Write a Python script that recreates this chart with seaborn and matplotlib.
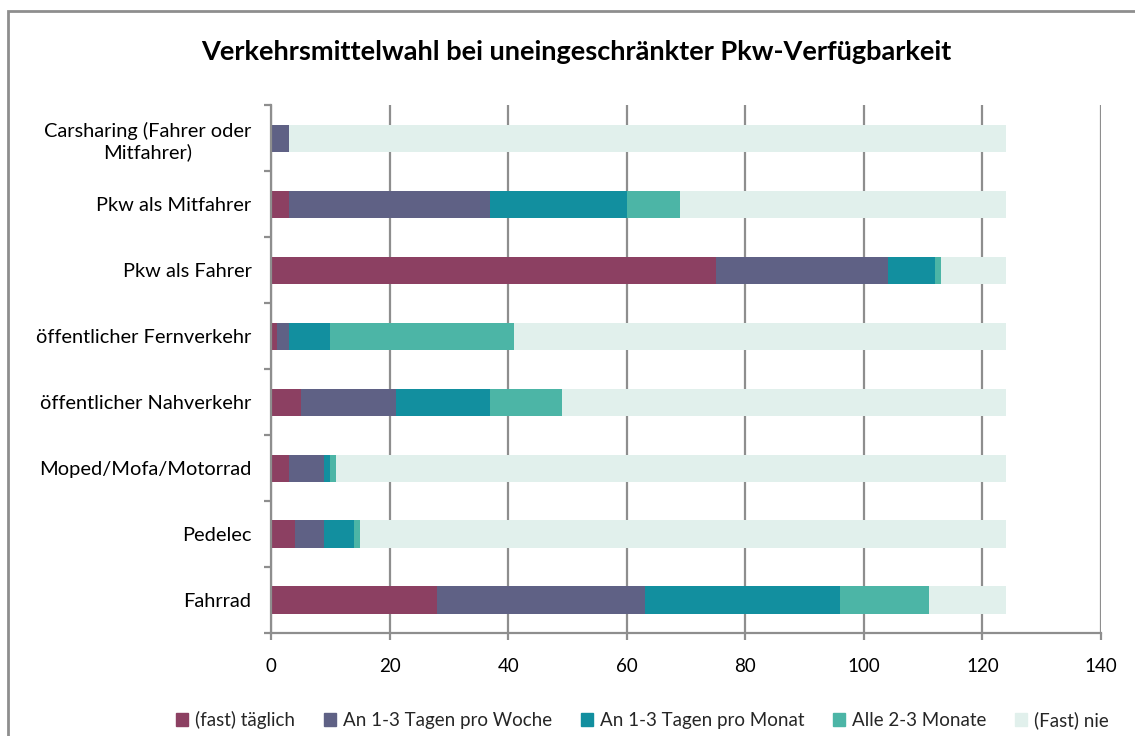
import matplotlib
matplotlib.use("Agg")
import matplotlib.pyplot as plt
import matplotlib.patches as mpatches
import seaborn as sns
import pandas as pd
import numpy as np

# Daten
verkehrsmittel = [
    "Carsharing (Fahrer oder\nMitfahrer)",
    "Pkw als Mitfahrer",
    "Pkw als Fahrer",
    "öffentlicher Fernverkehr",
    "öffentlicher Nahverkehr",
    "Moped/Mofa/Motorrad",
    "Pedelec",
    "Fahrrad",
]
taeglich = [0, 3, 75, 1, 5, 3, 4, 28]
woche = [3, 34, 29, 2, 16, 6, 5, 35]
monat = [0, 23, 8, 7, 16, 1, 5, 33]
alle_2_3 = [0, 9, 1, 31, 12, 1, 1, 15]
nie = [121, 55, 11, 83, 75, 113, 109, 13]

serien = ["(fast) täglich", "An 1-3 Tagen pro Woche", "An 1-3 Tagen pro Monat",
          "Alle 2-3 Monate", "(Fast) nie"]
farben = ["#8C4062", "#5F6185", "#128F9F", "#4CB5A6", "#E1F0EC"]

df = pd.DataFrame({
    "Verkehrsmittel": verkehrsmittel,
    serien[0]: taeglich,
    serien[1]: woche,
    serien[2]: monat,
    serien[3]: alle_2_3,
    serien[4]: nie,
})
# kumulierte Summen für die Stapel
kum = df[serien].cumsum(axis=1)
kum["Verkehrsmittel"] = df["Verkehrsmittel"]

sns.set_style("white")
plt.rcParams["font.family"] = ["Lato", "DejaVu Sans"]
grau = "#8E8E8E"

fig = plt.figure(figsize=(11.35, 7.36), dpi=100)
ax = fig.add_axes([0.2388, 0.140, 0.7313, 0.717])

# von hinten nach vorne zeichnen
for name, farbe in reversed(list(zip(serien, farben))):
    sns.barplot(data=kum, x=name, y="Verkehrsmittel", orient="h", color=farbe,
                width=0.41, label=name, ax=ax, saturation=1, edgecolor="none",
                order=verkehrsmittel)

ax.set_xlim(0, 140)
ax.set_ylim(len(verkehrsmittel) - 0.5, -0.5)
ax.set_xticks(np.arange(0, 141, 20))
ax.set_xlabel("")
ax.set_ylabel("")
ax.set_axisbelow(True)
ax.xaxis.grid(True, color=grau, linewidth=1.6)
ax.yaxis.grid(False)

for s in ["top", "right"]:
    ax.spines[s].set_visible(False)
for s in ["left", "bottom"]:
    ax.spines[s].set_color(grau)
    ax.spines[s].set_linewidth(1.6)

ax.tick_params(axis="x", length=5, width=1.6, color=grau, pad=13,
               labelsize=13.5, labelcolor="black", bottom=True)
ax.tick_params(axis="y", length=0, pad=14, labelsize=14.4, labelcolor="black")
ax.set_yticks(np.arange(-0.5, len(verkehrsmittel), 1), minor=True)
ax.tick_params(axis="y", which="minor", length=5, width=1.6, color=grau, left=True)
for lab in ax.get_yticklabels():
    lab.set_multialignment("center")

fig.text(0.508, 0.93, "Verkehrsmittelwahl bei uneingeschränkter Pkw-Verfügbarkeit",
         ha="center", va="center", fontsize=19.5, fontweight="bold", color="black")

# Legende in ursprünglicher Reihenfolge
handles = [mpatches.Patch(color=f, label=n) for n, f in zip(serien, farben)]
if ax.get_legend() is not None:
    ax.get_legend().remove()
fig.legend(handles=handles, loc="center", bbox_to_anchor=(0.566, 0.022), ncol=5,
           frameon=False, fontsize=13.5, handlelength=0.65, handleheight=0.65,
           handletextpad=0.35, columnspacing=1.55)

# Rahmen um das Diagramm
fig.patches.append(mpatches.Rectangle((0.007, -0.05), 1.1, 1.035, transform=fig.transFigure,
                                      fill=False, edgecolor=grau, linewidth=2))

fig.savefig("out.png", dpi=100)
